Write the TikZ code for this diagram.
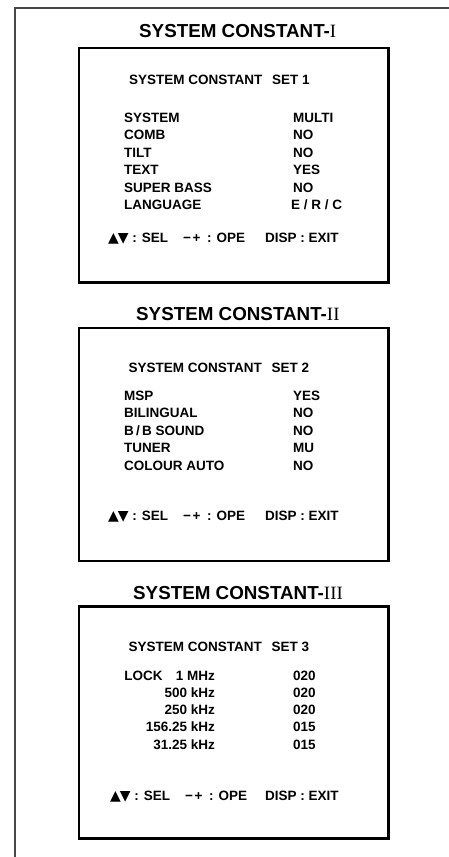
\documentclass[tikz,border=0pt]{standalone}
\usepackage{fontspec}
\setmainfont{Liberation Sans}
\newfontfamily\numeralfont{Liberation Serif}
\newfontfamily\symfont{DejaVu Sans}
\newcommand\updown{{\symfont\fontsize{14}{15}\selectfont▲\hspace{-1pt}▼}}

\begin{document}
\begin{tikzpicture}[x=1pt,y=-1pt,
    title/.style={anchor=base west,inner sep=0pt,font=\fontsize{18.8}{21}\selectfont\bfseries},
    txt/.style={anchor=base west,inner sep=0pt,font=\fontsize{13.5}{15}\selectfont\bfseries},
    rtxt/.style={txt,anchor=base east},
    screen/.style={line width=2.6pt}]
\useasboundingbox (0,0) rectangle (449,857);

% page frame
\coordinate (FB) at (14.5,857);
\coordinate (FC) at (14.5,7.5);
\coordinate (FR) at (449,7.5);
\draw[line width=2pt,black!72] (FB) -- (FC) -- (FR);

% screen I
\node[title] (T1) at (139,37) {SYSTEM CONSTANT-{\numeralfont\mdseries I}};
\draw[screen] (79,48) rectangle (388.5,282.5);
\node[txt] (H1) at (129,84) {SYSTEM CONSTANT\hspace{6pt} SET 1};
\node[txt] (A1) at (124,122) {SYSTEM};
\node[txt] (A2) at (124,139.5) {COMB};
\node[txt] (A3) at (124,157) {TILT};
\node[txt] (A4) at (124,174.5) {TEXT};
\node[txt] (A5) at (124,192) {SUPER BASS};
\node[txt] (A6) at (124,209.5) {LANGUAGE};
\node[txt] (V1) at (293,122) {MULTI};
\node[txt] (V2) at (293,139.5) {NO};
\node[txt] (V3) at (293,157) {NO};
\node[txt] (V4) at (293,174.5) {YES};
\node[txt] (V5) at (293,192) {NO};
\node[txt] (V6) at (291,209.5) {E / R / C};
\node[txt] (S1) at (108,242) {\updown\ : SEL};
\node[txt] (O1) at (183,242) {−\hspace{1.5pt}+\hspace{3pt} : OPE};
\node[txt] (E1) at (265,242) {DISP : EXIT};

% screen II
\node[title] (T2) at (136,320) {SYSTEM CONSTANT-{\numeralfont\mdseries II}};
\draw[screen] (79,328) rectangle (388.5,561);
\node[txt] (H2) at (128.5,372) {SYSTEM CONSTANT\hspace{6pt} SET 2};
\node[txt] (B1) at (124,400.5) {MSP};
\node[txt] (B2) at (124,417.8) {BILINGUAL};
\node[txt] (B3) at (124,435.5) {B\,/\,B SOUND};
\node[txt] (B4) at (124,452.7) {TUNER};
\node[txt] (B5) at (124,470) {COLOUR AUTO};
\node[txt] (W1) at (293,400.5) {YES};
\node[txt] (W2) at (293,417.8) {NO};
\node[txt] (W3) at (293,435.5) {NO};
\node[txt] (W4) at (293,452.7) {MU};
\node[txt] (W5) at (293,470) {NO};
\node[txt] (S2) at (108,520.7) {\updown\ : SEL};
\node[txt] (O2) at (183,520.7) {−\hspace{1.5pt}+\hspace{3pt} : OPE};
\node[txt] (E2) at (265,520.7) {DISP : EXIT};

% screen III
\node[title] (T3) at (133,599) {SYSTEM CONSTANT-{\numeralfont\mdseries III}};
\draw[screen] (79,606.5) rectangle (388.5,838.5);
\node[txt] (H3) at (128.5,651) {SYSTEM CONSTANT\hspace{6pt} SET 3};
\node[rtxt] (C1) at (215,680) {LOCK\hspace{9.5pt} 1 MHz};
\node[rtxt] (C2) at (215,697) {500 kHz};
\node[rtxt] (C3) at (215,714) {250 kHz};
\node[rtxt] (C4) at (215,731.7) {156.25 kHz};
\node[rtxt] (C5) at (215,749.5) {31.25 kHz};
\node[txt] (U1) at (293,680) {020};
\node[txt] (U2) at (293,697) {020};
\node[txt] (U3) at (293,714) {020};
\node[txt] (U4) at (293,731.7) {015};
\node[txt] (U5) at (293,749.5) {015};
\node[txt] (S3) at (110,800) {\updown\ : SEL};
\node[txt] (O3) at (185,800) {−\hspace{1.5pt}+\hspace{3pt} : OPE};
\node[txt] (E3) at (265,800) {DISP : EXIT};
\end{tikzpicture}
\end{document}
